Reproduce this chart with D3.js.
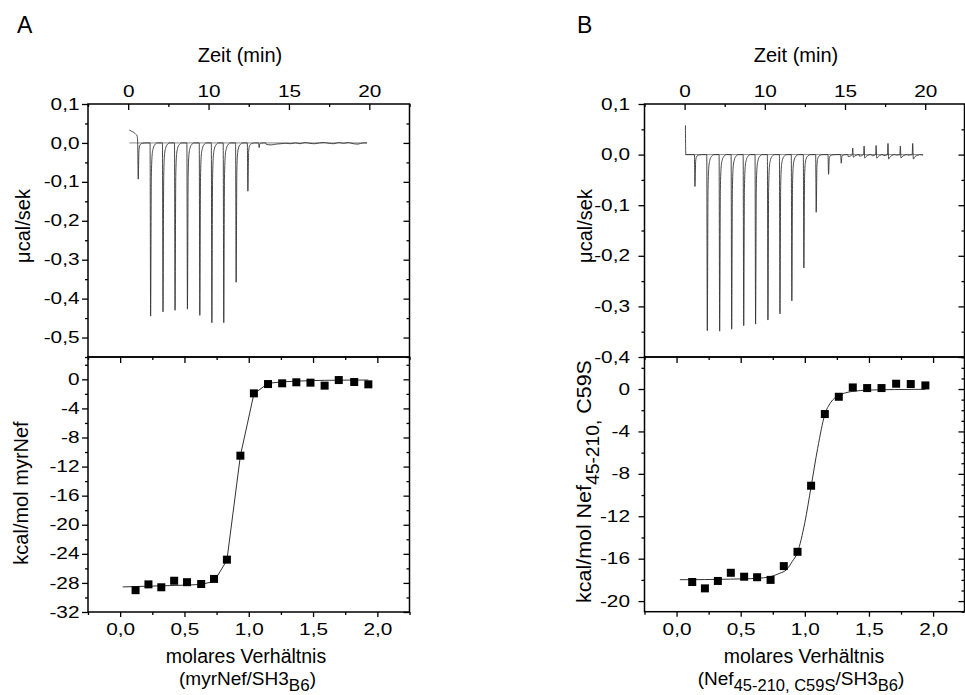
<!DOCTYPE html>
<html><head><meta charset="utf-8">
<script src="https://cdn.jsdelivr.net/npm/d3@7"></script>
<style>
body{margin:0;background:#fff;}
svg{display:block;font-family:"Liberation Sans",Arial,sans-serif;}
</style></head><body>
<svg id="chart" width="965" height="695"></svg>
<script>
// ---------- shared tick data ----------
const timeTicks = [5, 10, 15, 20];
const timeTickLabels = ["0", "10", "15", "20"];
const ratioTicks = [0, 0.5, 1, 1.5, 2];
const heatTopTicksA = [0.1, 0, -0.1, -0.2, -0.3, -0.4, -0.5];
const heatTopTicksB = [0.1, 0, -0.1, -0.2, -0.3, -0.4];
const enthalpyTicksA = [0, -4, -8, -12, -16, -20, -24, -28, -32];
const enthalpyTicksB = [0, -4, -8, -12, -16, -20];

// ---------- panel A : thermogram ----------
const injTimeA = [5.59, 6.36, 7.13, 7.88, 8.65, 9.42, 10.17, 10.91, 11.68, 12.41, 13.11];
const injPeakA = [-0.093, -0.445, -0.434, -0.430, -0.427, -0.443, -0.462, -0.462, -0.358, -0.124, -0.012];
const leadA = [[5.07, 0.033], [5.2, 0.030], [5.35, 0.027], [5.48, 0.022], [5.56, 0.018]];
const tailA = [[13.6, -0.004], [13.9, -0.005], [14.2, -0.003], [14.5, -0.002], [14.8, -0.001], [15.1, -0.002],
  [15.4, 0.000], [15.7, -0.002], [16.0, 0.001], [16.3, -0.001], [16.6, -0.002], [16.9, 0.000], [17.2, 0.001],
  [17.5, -0.001], [17.8, -0.002], [18.1, 0.001], [18.4, -0.001], [18.7, 0.001], [19.0, -0.002], [19.3, -0.003],
  [19.6, 0.000], [19.86, 0.000]];
const baseRangeA = [5.07, 19.86];

// ---------- panel A : integrated heats ----------
const ratioA = [0.12, 0.22, 0.32, 0.42, 0.52, 0.63, 0.73, 0.83, 0.935, 1.04, 1.15, 1.26, 1.37, 1.48, 1.59, 1.70, 1.82, 1.93];
const heatA = [-29.0, -28.2, -28.6, -27.7, -27.9, -28.15, -27.45, -24.8, -10.5, -1.93, -0.65, -0.55, -0.41, -0.46, -0.87, -0.10, -0.37, -0.69];
const fitRatioA = [0.02, 0.12, 0.22, 0.32, 0.42, 0.52, 0.63, 0.73, 0.83, 0.935, 1.04, 1.15, 1.26, 1.37, 1.48, 1.59, 1.70, 1.82, 1.93];
const fitHeatA = [-28.55, -28.5, -28.45, -28.4, -28.35, -28.3, -28.2, -27.8, -24.9, -10.5, -2.0, -0.55, -0.35, -0.25, -0.18, -0.14, -0.12, -0.10, -0.10];

// ---------- panel B : thermogram ----------
const injTimeB = [5.61, 6.38, 7.15, 7.90, 8.65, 9.39, 10.16, 10.91, 11.65, 12.40, 13.17, 13.94, 14.73, 15.45, 16.16, 16.91, 17.65, 18.42, 19.19];
const injPeakB = [-0.063, -0.348, -0.349, -0.345, -0.338, -0.335, -0.327, -0.315, -0.289, -0.224, -0.114, -0.039, -0.017, 0.013, 0.017, 0.018, 0.022, 0.017, 0.022];
const leadB = [[5.05, 0.058], [5.075, 0.0]];
const tailB = [[15.2, -0.004], [15.9, -0.003], [16.7, -0.002], [17.4, -0.002], [18.2, -0.001], [18.9, -0.001], [19.6, -0.001], [19.87, -0.001]];
const baseRangeB = [5.05, 19.87];

// ---------- panel B : integrated heats ----------
const ratioB = [0.122, 0.221, 0.322, 0.423, 0.527, 0.628, 0.733, 0.836, 0.943, 1.049, 1.156, 1.265, 1.374, 1.486, 1.598, 1.712, 1.826, 1.94];
const heatB = [-18.2, -18.8, -18.1, -17.33, -17.7, -17.75, -18.0, -16.7, -15.35, -9.12, -2.36, -0.73, 0.15, 0.09, 0.09, 0.50, 0.47, 0.34];
const fitRatioB = [0.026, 0.12, 0.22, 0.32, 0.42, 0.52, 0.63, 0.73, 0.80, 0.86, 0.90, 0.943, 1.0, 1.049, 1.10, 1.156, 1.20, 1.265, 1.32, 1.374, 1.5, 1.7, 1.94];
const fitHeatB = [-17.98, -17.98, -17.97, -17.95, -17.93, -17.9, -17.85, -17.7, -17.4, -17.0, -16.3, -15.4, -12.6, -9.2, -5.6, -2.4, -1.3, -0.6, -0.35, -0.22, -0.1, -0.05, -0.03];

// spike shapes (time offset in min, fraction of peak)
const spikeDown = [[0, 0], [0.035, 1], [0.08, 0.2], [0.13, 0.07], [0.2, 0.03], [0.3, 0.01], [0.45, 0]];
const spikeUp = [[0, 0], [0.03, 1], [0.07, -0.4], [0.14, -0.25], [0.25, -0.1], [0.45, 0]];

// ---------- helpers ----------
const loc = d3.formatLocale({decimal: ",", thousands: ".", grouping: [3], currency: ["", " €"], minus: "-"});
const f1 = loc.format(".1f");
const f0 = loc.format("d");
const TICKSCALE = 1.3;

function minorTicks(domain, step, major) {
  const lo = Math.min(domain[0], domain[1]), hi = Math.max(domain[0], domain[1]);
  const out = [];
  for (let k = Math.ceil(lo / step - 1e-9); k * step <= hi + 1e-9; k++) {
    const v = +(k * step).toFixed(6);
    if (!major.some(m => Math.abs(m - v) < 1e-9)) out.push(v);
  }
  return out;
}
function buildTrace(lead, times, peaks, tail) {
  const pts = lead.slice();
  times.forEach((t, i) => {
    const p = peaks[i];
    (p < 0 ? spikeDown : spikeUp).forEach(([dt, f]) => pts.push([t + dt, f * p]));
  });
  tail.forEach(d => pts.push(d));
  pts.sort((a, b) => a[0] - b[0]);
  return pts;
}

const svg = d3.select("#chart");

function styleAxis(sel) {
  sel.select(".domain").remove();
  sel.selectAll(".tick line").attr("stroke", "#000").attr("stroke-width", 1.3);
  sel.selectAll("text").attr("font-size", 16).attr("fill", "#000")
    .attr("font-family", '"Liberation Sans", Arial, sans-serif');
}

function drawPanel(p) {
  const g = svg.append("g");
  const xT = d3.scaleLinear().domain(p.timeDomain).range([p.x0, p.x1]);
  const yT = d3.scaleLinear().domain(p.topDomain).range([p.yMid, p.yTop]);
  const xR = d3.scaleLinear().domain(p.ratioDomain).range([p.x0, p.x1]);
  const yB = d3.scaleLinear().domain(p.botDomain).range([p.yBot, p.yMid]);

  // baseline reference
  g.append("line").attr("x1", xT(p.baseRange[0])).attr("x2", xT(p.baseRange[1]))
    .attr("y1", yT(0)).attr("y2", yT(0)).attr("stroke", "#8a8a8a").attr("stroke-width", 1);
  // raw trace
  const trace = buildTrace(p.lead, p.injTime, p.injPeak, p.tail);
  g.append("path").datum(trace)
    .attr("d", d3.line().x(d => xT(d[0])).y(d => yT(d[1])).curve(d3.curveMonotoneX))
    .attr("fill", "none").attr("stroke", "#333").attr("stroke-width", 0.9);

  // fit
  const fit = p.fitX.map((x, i) => [x, p.fitY[i]]);
  g.append("path").datum(fit)
    .attr("d", d3.line().x(d => xR(d[0])).y(d => yB(d[1])).curve(p.fitCurve))
    .attr("fill", "none").attr("stroke", "#333").attr("stroke-width", 1);
  // squares
  const s = 8;
  g.selectAll("rect.pt").data(p.ratio.map((x, i) => [x, p.heat[i]])).join("rect")
    .attr("class", "pt").attr("x", d => xR(d[0]) - s / 2).attr("y", d => yB(d[1]) - s / 2)
    .attr("width", s).attr("height", s).attr("fill", "#000");

  // frames
  [[p.yTop, p.yMid], [p.yMid, p.yBot]].forEach(([a, b]) => {
    g.append("rect").attr("x", p.x0).attr("y", a).attr("width", p.x1 - p.x0).attr("height", b - a)
      .attr("fill", "none").attr("stroke", "#000").attr("stroke-width", 1.5);
  });

  // ----- top panel axes -----
  const tMinor = minorTicks(p.timeDomain, 2.5, timeTicks);
  g.append("g").attr("transform", `translate(0,${p.yTop})`)
    .call(d3.axisBottom(xT).tickValues(timeTicks).tickSize(6).tickFormat("")).call(styleAxis);
  g.append("g").attr("transform", `translate(0,${p.yTop})`)
    .call(d3.axisBottom(xT).tickValues(tMinor).tickSize(3).tickFormat("")).call(styleAxis);
  const tl = g.append("g").attr("transform", `translate(0,${p.yTop})`)
    .call(d3.axisTop(xT).tickValues(timeTicks).tickSize(0).tickPadding(7.5)
      .tickFormat((d, i) => timeTickLabels[i])).call(styleAxis);
  tl.selectAll("text").attr("transform", `scale(${TICKSCALE},1)`);

  const hMinor = minorTicks(p.topDomain, 0.05, p.topTicks);
  // left outward
  const la = g.append("g").attr("transform", `translate(${p.x0},0)`)
    .call(d3.axisLeft(yT).tickValues(p.topTicks).tickSize(6).tickFormat(f1)).call(styleAxis);
  la.selectAll("text").attr("x", 0).attr("transform", `translate(${-p.labelGap},0) scale(${TICKSCALE},1)`);
  g.append("g").attr("transform", `translate(${p.x0},0)`)
    .call(d3.axisLeft(yT).tickValues(hMinor).tickSize(3).tickFormat("")).call(styleAxis);
  // right inward
  g.append("g").attr("transform", `translate(${p.x1},0)`)
    .call(d3.axisLeft(yT).tickValues(p.topTicks.filter(v => v < p.topDomain[1])).tickSize(6).tickFormat("")).call(styleAxis);
  g.append("g").attr("transform", `translate(${p.x1},0)`)
    .call(d3.axisLeft(yT).tickValues(hMinor).tickSize(3).tickFormat("")).call(styleAxis);

  // ----- bottom panel axes -----
  const rMinor = minorTicks(p.ratioDomain, 0.25, ratioTicks);
  [[p.yMid, d3.axisBottom], [p.yBot, d3.axisBottom]].forEach(([yy, ax], k) => {
    g.append("g").attr("transform", `translate(0,${yy})`)
      .call(ax(xR).tickValues(ratioTicks).tickSize(k === 0 ? 6 : 5).tickFormat("")).call(styleAxis);
    g.append("g").attr("transform", `translate(0,${yy})`)
      .call(ax(xR).tickValues(rMinor).tickSize(3).tickFormat("")).call(styleAxis);
  });
  const bl = g.append("g").attr("transform", `translate(0,${p.yBot})`)
    .call(d3.axisBottom(xR).tickValues(ratioTicks).tickSize(0).tickPadding(11.6).tickFormat(f1)).call(styleAxis);
  bl.selectAll("text").attr("transform", `scale(${TICKSCALE},1)`);

  const eMinorL = minorTicks(p.botDomain, 2, p.botTicks);
  const eMinorR = minorTicks(p.botDomain, p.rightStep, p.botTicks);
  const lb = g.append("g").attr("transform", `translate(${p.x0},0)`)
    .call(d3.axisLeft(yB).tickValues(p.botTicks).tickSize(6).tickFormat(f0)).call(styleAxis);
  lb.selectAll("text").attr("x", 0).attr("transform", `translate(${-p.labelGap},0) scale(${TICKSCALE},1)`);
  g.append("g").attr("transform", `translate(${p.x0},0)`)
    .call(d3.axisLeft(yB).tickValues(eMinorL).tickSize(3).tickFormat("")).call(styleAxis);
  g.append("g").attr("transform", `translate(${p.x1},0)`)
    .call(d3.axisLeft(yB).tickValues(p.botTicks).tickSize(6).tickFormat("")).call(styleAxis);
  g.append("g").attr("transform", `translate(${p.x1},0)`)
    .call(d3.axisLeft(yB).tickValues(eMinorR).tickSize(3).tickFormat("")).call(styleAxis);

  // ----- titles -----
  g.append("text").attr("x", p.letterX).attr("y", 33).attr("font-size", 23).text(p.letter);
  g.append("text").attr("x", p.zeitX).attr("y", 62).attr("text-anchor", "middle").attr("font-size", 20).text("Zeit (min)");
  g.append("text").attr("transform", `translate(${p.ucalX},226) rotate(-90)`).attr("text-anchor", "middle")
    .attr("font-size", 20).text("\u03bccal/sek");
  g.append("text").attr("x", p.molX).attr("y", 663).attr("text-anchor", "middle").attr("font-size", 19.5).text("molares Verhältnis");
  return g;
}

// ---------- panel A ----------
const gA = drawPanel({
  x0: 88, x1: 409.5, yTop: 104, yMid: 357, yBot: 612,
  timeDomain: [2.5, 22.5], topDomain: [-0.55, 0.1], topTicks: heatTopTicksA,
  ratioDomain: [-0.25, 2.25], botDomain: [-32, 3.07], botTicks: enthalpyTicksA, rightStep: 2,
  labelGap: 8.5,
  injTime: injTimeA, injPeak: injPeakA, lead: leadA, tail: tailA, baseRange: baseRangeA,
  ratio: ratioA, heat: heatA, fitX: fitRatioA, fitY: fitHeatA, fitCurve: d3.curveLinear,
  letter: "A", letterX: 17, zeitX: 240, ucalX: 29.5, molX: 246
});
gA.append("text").attr("transform", "translate(27.5,493) rotate(-90)").attr("text-anchor", "middle")
  .attr("font-size", 20).text("kcal/mol myrNef");
const a2 = gA.append("text").attr("x", 247.5).attr("y", 685).attr("text-anchor", "middle").attr("font-size", 19);
a2.append("tspan").text("(myrNef/SH3");
a2.append("tspan").attr("dy", 6).attr("font-size", 17).text("B6");
a2.append("tspan").attr("dy", -6).text(")");

// ---------- panel B ----------
const gB = drawPanel({
  x0: 644.5, x1: 964.5, yTop: 104, yMid: 357, yBot: 611.7,
  timeDomain: [2.5, 22.45], topDomain: [-0.4, 0.1], topTicks: heatTopTicksB,
  ratioDomain: [-0.25, 2.245], botDomain: [-21, 3.02], botTicks: enthalpyTicksB, rightStep: 1,
  labelGap: 14.5,
  injTime: injTimeB, injPeak: injPeakB, lead: leadB, tail: tailB, baseRange: baseRangeB,
  ratio: ratioB, heat: heatB, fitX: fitRatioB, fitY: fitHeatB, fitCurve: d3.curveMonotoneX,
  letter: "B", letterX: 577, zeitX: 796, ucalX: 592, molX: 804
});
const by = gB.append("text").attr("text-anchor", "middle").attr("font-size", 20);
by.append("tspan").text("kcal/mol Nef");
by.append("tspan").attr("dy", 8).attr("font-size", 18).text("45-210,");
by.append("tspan").attr("dy", -8).text("  C59S");
{
  const len = by.node().getComputedTextLength();
  const sc = 243 / len;
  by.attr("transform", `translate(590.5,481.5) rotate(-90) scale(${sc},1)`);
}
const b2 = gB.append("text").attr("x", 801).attr("y", 685).attr("text-anchor", "middle").attr("font-size", 19);
b2.append("tspan").text("(Nef");
b2.append("tspan").attr("dy", 6).attr("font-size", 16.5).text("45-210, C59S");
b2.append("tspan").attr("dy", -6).text("/SH3");
b2.append("tspan").attr("dy", 6).attr("font-size", 16.5).text("B6");
b2.append("tspan").attr("dy", -6).text(")");
</script>
</body></html>
